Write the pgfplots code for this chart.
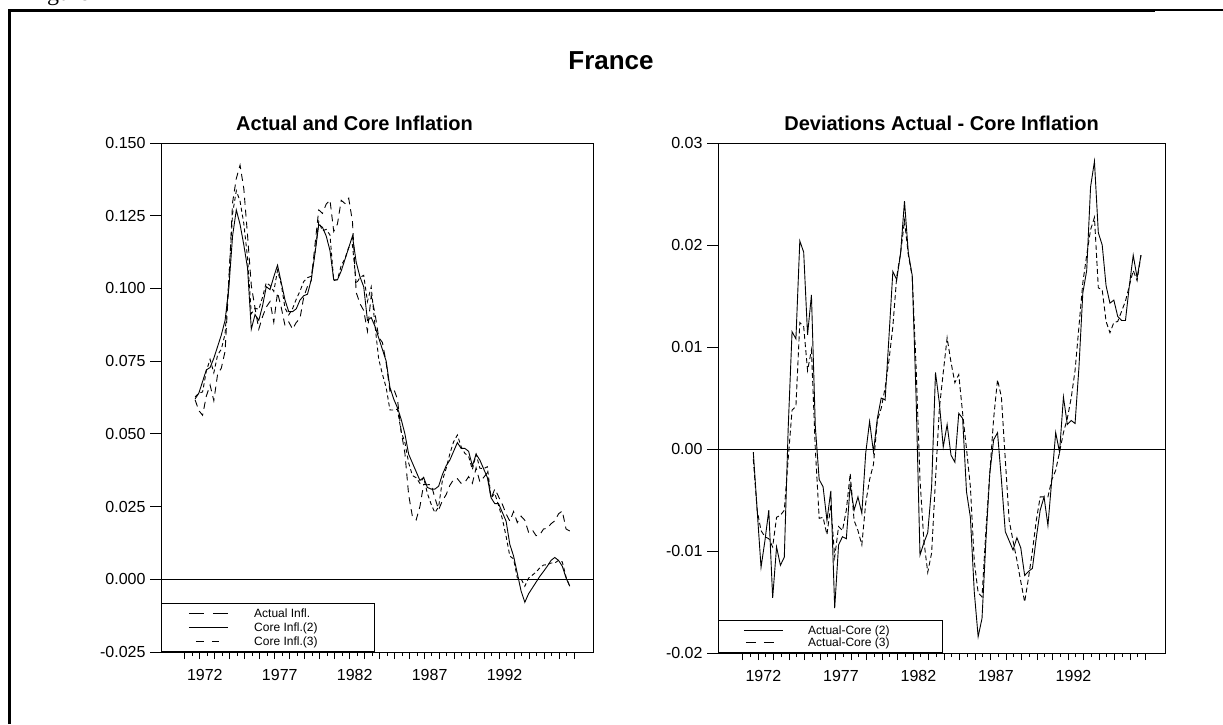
\documentclass[border=0pt]{standalone}
\usepackage{fontspec}
\setmainfont{Liberation Sans}
\newfontfamily\seriffont{Liberation Serif}
\usepackage{pgfplots}
\usepackage{pgfplotstable}
\pgfplotsset{compat=1.18}

\pgfplotstableread{
k actual core2 core3
0 0.0617 0.062 0.0627
1 0.058 0.064 0.064
2 0.0564 0.068 0.0644
3 0.063 0.072 0.0716
4 0.0668 0.0728 0.0756
5 0.0614 0.076 0.071
6 0.0704 0.080 0.0771
7 0.0726 0.084 0.0791
8 0.0784 0.089 0.0844
9 0.102 0.100 0.103
10 0.1295 0.118 0.1257
11 0.1378 0.127 0.1336
12 0.1424 0.122 0.130
13 0.1343 0.115 0.1223
14 0.1182 0.107 0.1105
15 0.101 0.086 0.0913
16 0.0932 0.091 0.0932
17 0.086 0.089 0.0928
18 0.0903 0.094 0.097
19 0.0936 0.1006 0.102
20 0.0955 0.0996 0.101
21 0.0884 0.104 0.099
22 0.0986 0.108 0.1062
23 0.0934 0.102 0.1014
24 0.0872 0.096 0.0932
25 0.0885 0.092 0.0909
26 0.086 0.092 0.093
27 0.0883 0.093 0.0963
28 0.0897 0.096 0.0991
29 0.0971 0.0975 0.1024
30 0.1007 0.098 0.1037
31 0.1027 0.103 0.1042
32 0.115 0.112 0.1122
33 0.127 0.122 0.123
34 0.1258 0.121 0.1198
35 0.129 0.118 0.1203
36 0.1304 0.113 0.1184
37 0.1196 0.103 0.1027
38 0.1222 0.103 0.103
39 0.1303 0.106 0.1079
40 0.1292 0.110 0.1102
41 0.131 0.114 0.1141
42 0.123 0.118 0.115
43 0.0986 0.109 0.1016
44 0.0948 0.104 0.1038
45 0.0924 0.1006 0.1045
46 0.0853 0.089 0.0955
47 0.0975 0.090 0.1005
48 0.0915 0.087 0.0875
49 0.0832 0.083 0.0757
50 0.0814 0.079 0.0705
51 0.0744 0.075 0.0659
52 0.0647 0.066 0.0582
53 0.0655 0.062 0.0582
54 0.062 0.059 0.0585
55 0.0508 0.055 0.0508
56 0.0433 0.050 0.047
57 0.029 0.043 0.040
58 0.0216 0.040 0.0357
59 0.0204 0.037 0.0349
60 0.025 0.034 0.033
61 0.0326 0.035 0.035
62 0.0325 0.0316 0.0295
63 0.0326 0.031 0.0258
64 0.028 0.031 0.0229
65 0.0239 0.032 0.0249
66 0.027 0.036 0.034
67 0.0291 0.039 0.0381
68 0.0323 0.041 0.0432
69 0.0343 0.044 0.0473
70 0.0346 0.047 0.0496
71 0.033 0.045 0.0456
72 0.0333 0.045 0.0433
73 0.0353 0.044 0.0423
74 0.033 0.039 0.0377
75 0.0383 0.043 0.043
76 0.0335 0.041 0.0382
77 0.035 0.038 0.038
78 0.0366 0.035 0.0387
79 0.0277 0.028 0.028
80 0.0311 0.026 0.0295
81 0.0284 0.026 0.0254
82 0.0258 0.023 0.0208
83 0.0225 0.020 0.0148
84 0.020 0.012 0.008
85 0.0233 0.008 0.007
86 0.0195 0.002 0.0005
87 0.0217 -0.004 0.0002
88 0.0203 -0.0079 -0.0024
89 0.0162 -0.005 0.0004
90 0.017 -0.003 0.0014
91 0.015 -0.001 0.0025
92 0.0153 0.001 0.0039
93 0.0173 0.0027 0.0049
94 0.0175 0.0045 0.005
95 0.0191 0.0065 0.0056
96 0.0201 0.0075 0.0056
97 0.0225 0.0065 0.0065
98 0.0235 0.0045 0.006
99 0.0173 0.0005 0.0008
100 0.0166 -0.0024 -0.0024
}\leftdata

\pgfplotstableread{
k dev2 dev3
0 -0.0003 -0.001
1 -0.006 -0.006
2 -0.0116 -0.008
3 -0.009 -0.0086
4 -0.006 -0.0088
5 -0.0146 -0.0096
6 -0.0096 -0.0067
7 -0.0114 -0.0065
8 -0.0106 -0.006
9 0.002 -0.001
10 0.0115 0.0038
11 0.0108 0.0042
12 0.0204 0.0124
13 0.0193 0.012
14 0.0112 0.0077
15 0.0151 0.0097
16 0.0022 0.0
17 -0.003 -0.0068
18 -0.0037 -0.0067
19 -0.007 -0.0084
20 -0.0041 -0.0055
21 -0.0156 -0.0106
22 -0.0094 -0.0076
23 -0.0086 -0.008
24 -0.0088 -0.006
25 -0.0035 -0.0024
26 -0.006 -0.007
27 -0.0047 -0.008
28 -0.0063 -0.0094
29 -0.0004 -0.0053
30 0.0027 -0.003
31 -0.0003 -0.0015
32 0.003 0.0028
33 0.005 0.004
34 0.0048 0.006
35 0.011 0.0087
36 0.0174 0.012
37 0.0166 0.0169
38 0.0192 0.0192
39 0.0243 0.0224
40 0.0192 0.019
41 0.017 0.0169
42 0.005 0.008
43 -0.0104 -0.003
44 -0.0092 -0.009
45 -0.0082 -0.0121
46 -0.0037 -0.0102
47 0.0075 -0.003
48 0.0045 0.004
49 0.0002 0.0075
50 0.0024 0.0109
51 -0.0006 0.0085
52 -0.0013 0.0065
53 0.0035 0.0073
54 0.003 0.0035
55 -0.0042 0.0
56 -0.0067 -0.0037
57 -0.014 -0.011
58 -0.0184 -0.0141
59 -0.0166 -0.0145
60 -0.009 -0.008
61 -0.0024 -0.0024
62 0.0009 0.003
63 0.0016 0.0068
64 -0.003 0.0051
65 -0.0081 -0.001
66 -0.009 -0.007
67 -0.0099 -0.009
68 -0.0087 -0.0109
69 -0.0097 -0.013
70 -0.0124 -0.015
71 -0.012 -0.0126
72 -0.0117 -0.01
73 -0.0087 -0.007
74 -0.006 -0.0047
75 -0.0047 -0.0047
76 -0.0075 -0.0047
77 -0.003 -0.003
78 0.0016 -0.0021
79 -0.0003 -0.0003
80 0.0051 0.0016
81 0.0024 0.003
82 0.0028 0.005
83 0.0025 0.0077
84 0.008 0.012
85 0.0153 0.0163
86 0.0175 0.019
87 0.0257 0.0215
88 0.0282 0.0227
89 0.0212 0.0158
90 0.020 0.0156
91 0.016 0.0125
92 0.0143 0.0114
93 0.0146 0.0124
94 0.013 0.0125
95 0.0126 0.0135
96 0.0126 0.0145
97 0.016 0.016
98 0.019 0.0175
99 0.0168 0.0165
100 0.019 0.019
}\rightdata

\newcommand{\lgd}[2]{\fontsize{12}{14}\selectfont\makebox[#1][l]{#2}}

\pgfplotsset{
  panel/.style={
    anchor=south west, scale only axis,
    xmin=-9.1, xmax=106.2,
    axis line style={black, line width=0.8pt},
    tick style={black, line width=0.8pt},
    tick align=outside, xtick pos=bottom, ytick pos=left,
    major tick length=7pt, minor tick length=4pt,
    xtick={-2.8,1.2,...,99.3}, xticklabels={},
    minor xtick={-0.8,3.2,...,97.3},
    ytick=\empty,
    extra x ticks={2.6,22.6,42.6,62.6,82.6},
    extra x tick labels={1972,1977,1982,1987,1992},
    extra x tick style={major tick length=0pt, tick label style={font=\fontsize{16}{19}\selectfont, yshift=-14pt}},
    extra y tick style={major tick length=11pt, tick label style={font=\fontsize{16}{19}\selectfont, xshift=-1pt}},
    clip=false,
    legend cell align=left,
  },
}

\begin{document}
\begin{tikzpicture}
\useasboundingbox (0pt,0pt) rectangle (1223pt,724pt);
% outer frame
\draw[line width=3.6pt] (9.5pt,0pt) -- (9.5pt,713.5pt) -- (1155pt,713.5pt);
\draw[line width=1.6pt] (1155pt,714pt) -- (1223pt,714pt);
\node[anchor=base west, inner sep=0pt, font=\seriffont\fontsize{24}{26}\selectfont] at (27pt,723pt) {Figure};
% titles
\node[anchor=base, inner sep=0pt, font=\bfseries\fontsize{26}{30}\selectfont] at (611pt,654pt) {France};
\node[anchor=base west, inner sep=0pt, font=\bfseries\fontsize{20}{24}\selectfont] at (236pt,593pt) {Actual and Core Inflation};
\node[anchor=base east, inner sep=0pt, font=\bfseries\fontsize{20}{24}\selectfont] at (1099pt,593pt) {Deviations Actual - Core Inflation};

\begin{axis}[panel,
  at={(161pt,72pt)}, width=432pt, height=509pt,
  ymin=-0.025, ymax=0.15,
  extra y ticks={-0.025,0,0.025,0.05,0.075,0.1,0.125,0.15},
  extra y tick labels={-0.025,0.000,0.025,0.050,0.075,0.100,0.125,0.150},
  legend style={at={(0,0)}, anchor=south west, draw=black, line width=0.6pt, fill=white,
    inner xsep=0pt, inner ysep=4.3pt,
    nodes={inner sep=0pt, text depth=2.4pt, text height=9pt},
    row sep=2.6pt,
    /tikz/every odd column/.append style={column sep=26pt}},
]
\addplot[black, line width=0.6pt, forget plot] coordinates {(-9.1,0) (106.2,0)};
\addplot[black, line width=0.9pt, dash pattern=on 7pt off 5pt,
  legend image code/.code={\path (0pt,0pt); \draw[black, line width=0.8pt, dash pattern=on 15pt off 9pt] (27pt,0pt) -- (66pt,0pt);}]
  table[x=k, y=actual] {\leftdata};
\addlegendentry{\lgd{120pt}{Actual Infl.}}
\addplot[black, line width=0.9pt,
  legend image code/.code={\path (0pt,0pt); \draw[black, line width=0.8pt] (27pt,0pt) -- (66pt,0pt);}]
  table[x=k, y=core2] {\leftdata};
\addlegendentry{\lgd{120pt}{Core Infl.(2)}}
\addplot[black, line width=0.9pt, dash pattern=on 4pt off 3pt,
  legend image code/.code={\path (0pt,0pt) (66pt,0pt); \draw[black, line width=0.8pt, dash pattern=on 8pt off 8pt] (34pt,0pt) -- (57pt,0pt);}]
  table[x=k, y=core3] {\leftdata};
\addlegendentry{\lgd{120pt}{Core Infl.(3)}}
\end{axis}

\begin{axis}[panel,
  at={(718pt,71pt)}, width=447pt, height=510pt,
  ymin=-0.02, ymax=0.03,
  extra y ticks={-0.02,-0.01,0,0.01,0.02,0.03},
  extra y tick labels={-0.02,-0.01,0.00,0.01,0.02,0.03},
  legend style={at={(0,0)}, anchor=south west, draw=black, line width=0.6pt, fill=white,
    inner xsep=0pt, inner ysep=4.3pt,
    nodes={inner sep=0pt, text depth=2.4pt, text height=9pt},
    row sep=0.6pt,
    /tikz/every odd column/.append style={column sep=25pt}},
]
\addplot[black, line width=0.6pt, forget plot] coordinates {(-9.1,0) (106.2,0)};
\addplot[black, line width=0.9pt,
  legend image code/.code={\path (0pt,0pt); \draw[black, line width=0.8pt] (25pt,0pt) -- (64pt,0pt);}]
  table[x=k, y=dev2] {\rightdata};
\addlegendentry{\lgd{134pt}{Actual-Core (2)}}
\addplot[black, line width=0.9pt, dash pattern=on 5pt off 3pt,
  legend image code/.code={\path (0pt,0pt) (64pt,0pt); \draw[black, line width=0.8pt, dash pattern=on 10pt off 8pt] (27pt,0pt) -- (55pt,0pt);}]
  table[x=k, y=dev3] {\rightdata};
\addlegendentry{\lgd{134pt}{Actual-Core (3)}}
\end{axis}
\end{tikzpicture}
\end{document}
